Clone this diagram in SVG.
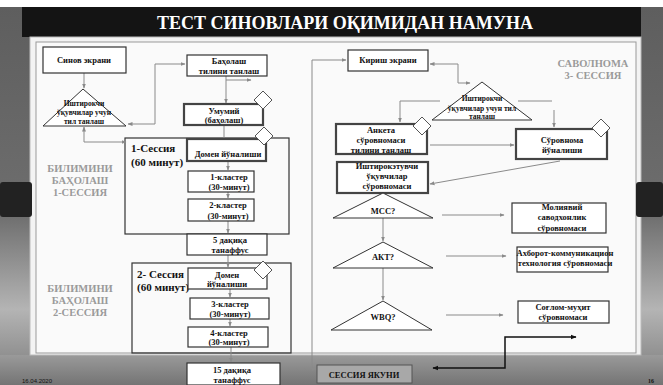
<svg xmlns="http://www.w3.org/2000/svg" width="663" height="385" viewBox="0 0 663 385">
<defs>
<linearGradient id="side" x1="0" y1="0" x2="0" y2="1">
<stop offset="0" stop-color="#5e5e5e"/><stop offset="0.55" stop-color="#6e6e6e"/><stop offset="0.8" stop-color="#b4b4b4"/><stop offset="1" stop-color="#7a7a7a"/>
</linearGradient>
<linearGradient id="band" x1="0" y1="0" x2="0" y2="1">
<stop offset="0" stop-color="#9a9a9a"/><stop offset="1" stop-color="#747474"/>
</linearGradient>
<marker id="ag" viewBox="0 0 10 10" refX="9" refY="5" markerWidth="5" markerHeight="5" orient="auto-start-reverse"><path d="M0,1 L10,5 L0,9 z" fill="#8a8a8a"/></marker>
<marker id="ab" viewBox="0 0 10 10" refX="9" refY="5" markerWidth="4" markerHeight="4" orient="auto-start-reverse"><path d="M0,1 L10,5 L0,9 z" fill="#111"/></marker>
<style>
.box{fill:#fff;stroke:#333;stroke-width:1.2}
.thk{fill:#fff;stroke:#444;stroke-width:2.2}
.tri{fill:#fff;stroke:#333;stroke-width:1}
.dia{fill:#fff;stroke:#555;stroke-width:1}
.t{font-family:"Liberation Serif",serif;font-weight:bold;font-size:8.5px;text-anchor:middle;fill:#111}
.ts{font-size:7.5px}
.tl{font-size:11px;text-anchor:start}
.tg{font-family:"Liberation Serif",serif;font-weight:bold;font-size:10.5px;text-anchor:middle;fill:#9a9a9a}
.c{fill:none;stroke:#8a8a8a;stroke-width:1}
.cb{fill:none;stroke:#111;stroke-width:1.5}
</style>
</defs>
<g id="background">
<rect x="0" y="0" width="663" height="385" fill="#fff"/>
<rect x="0" y="7" width="32" height="378" fill="url(#side)"/>
<rect x="637" y="7" width="26" height="378" fill="url(#side)"/>
<rect x="0" y="355" width="663" height="30" fill="url(#band)"/>
<rect x="22" y="7" width="619" height="30" fill="#141414"/>
<text x="345" y="29" font-family="Liberation Serif,serif" font-weight="bold" font-size="18" fill="#fff" text-anchor="middle">ТЕСТ СИНОВЛАРИ ОҚИМИДАН НАМУНА</text>
<rect x="30" y="37" width="611" height="318" fill="#f3f3f3" stroke="#bbb" stroke-width="1"/>
<rect x="36" y="42" width="600" height="311" fill="#fafafa" stroke="#999" stroke-width="1"/>
<rect x="0" y="182" width="32" height="35" rx="3" fill="#222"/>
<rect x="636" y="182" width="27" height="35" rx="3" fill="#222"/>
<text x="22" y="383" font-family="Liberation Sans,sans-serif" font-size="6" fill="#111">16.04.2020</text>
<text x="648" y="383" font-family="Liberation Serif,serif" font-weight="bold" font-size="6" fill="#111">16</text>
<text class="tg" x="80" y="172">БИЛИМИНИ</text>
<text class="tg" x="80" y="184">БАҲОЛАШ</text>
<text class="tg" x="80" y="196">1-СЕССИЯ</text>
<text class="tg" x="80" y="292">БИЛИМИНИ</text>
<text class="tg" x="80" y="304">БАҲОЛАШ</text>
<text class="tg" x="80" y="316">2-СЕССИЯ</text>
<text class="tg" x="593" y="67">САВОЛНОМА</text>
<text class="tg" x="593" y="79">3- СЕССИЯ</text>
</g>
<g id="session1">
<rect x="125" y="138" width="164" height="96" fill="none" stroke="#333" stroke-width="1.2"/>
<text class="t tl" x="131" y="152">1-Сессия</text>
<text class="t tl" x="131" y="166">(60 минут)</text>
</g>
<g id="session2">
<rect x="132" y="263" width="159" height="90" fill="none" stroke="#333" stroke-width="1.2"/>
<text class="t tl" x="137" y="278">2- Сессия</text>
<text class="t tl" x="137" y="291">(60 минут)</text>
</g>
<g id="connectors">
<path class="c" d="M84,73 V88" marker-end="url(#ag)"/>
<path class="c" d="M128,124 H155 V64 H185" marker-start="url(#ag)" marker-end="url(#ag)"/>
<path class="c" d="M84,127 V142 H126" marker-start="url(#ag)" marker-end="url(#ag)"/>
<path class="c" d="M226,76 V103" marker-end="url(#ag)"/>
<path class="c" d="M226,80 H251" marker-end="url(#ag)"/>
<path class="c" d="M224,125 V139"/>
<path class="c" d="M228,161 V170" marker-end="url(#ag)"/>
<path class="c" d="M228,192 V198" marker-end="url(#ag)"/>
<path class="c" d="M228,221 V233" marker-end="url(#ag)"/>
<path class="c" d="M228,255 V267" marker-end="url(#ag)"/>
<path class="c" d="M230,289 V297" marker-end="url(#ag)"/>
<path class="c" d="M230,319 V326" marker-end="url(#ag)"/>
<path class="c" d="M231,347 V362" marker-end="url(#ag)"/>
<path class="c" d="M346,60 H312 V369 H316" marker-start="url(#ag)" marker-end="url(#ag)"/>
<path class="c" d="M430,64 H458 V83 H470" marker-start="url(#ag)" marker-end="url(#ag)"/>
<path class="c" d="M440,101 H400 V122" marker-end="url(#ag)"/>
<path class="c" d="M518,101 H552"/>
<path class="c" d="M554,110 V127" marker-end="url(#ag)"/>
<path class="c" d="M430,145 H514" marker-end="url(#ag)"/>
<path class="c" d="M560,161 L430,184" marker-end="url(#ag)"/>
<path class="c" d="M383,218 V241" marker-end="url(#ag)"/>
<path class="c" d="M383,268 V300" marker-end="url(#ag)"/>
<path class="c" d="M442,215 H504" marker-end="url(#ag)"/>
<path class="c" d="M446,256 H506" marker-end="url(#ag)"/>
<path class="c" d="M446,315 H503" marker-end="url(#ag)"/>
<path class="cb" d="M433,368 H505 V337 H576" marker-start="url(#ab)" marker-end="url(#ab)"/>
</g>
<g id="sinov-ekrani">
<rect class="box" x="43" y="47" width="83" height="26"/>
<text class="t" x="84" y="63" font-size="9">Синов экрани</text>
</g>
<g id="tri-left">
<polygon class="tri" points="83,89 43,126 126,126"/>
<text class="t ts" x="84" y="106">Иштирокчи</text>
<text class="t ts" x="84" y="115">ўқувчилар учун</text>
<text class="t ts" x="84" y="124">тил танлаш</text>
</g>
<g id="baholash">
<rect class="box" x="187" y="55" width="80" height="21"/>
<text class="t" x="229" y="64">Баҳолаш</text>
<text class="t" x="229" y="74">тилини танлаш</text>
</g>
<g id="umumiy">
<rect class="thk" x="184" y="104" width="79" height="21"/>
<text class="t" x="224" y="114">Умумий</text>
<text class="t" x="224" y="123">(баҳолаш)</text>
<polygon class="dia" points="263,91 272,100 263,109 254,100"/>
</g>
<g id="domen1">
<rect class="thk" x="187" y="139" width="79" height="22"/>
<text class="t" x="228" y="157">Домен йўналиши</text>
<polygon class="dia" points="264,127 273,136 264,145 255,136"/>
</g>
<g id="klaster1">
<rect class="box" x="188" y="171" width="66" height="21"/>
<text class="t" x="229" y="180">1-кластер</text>
<text class="t" x="229" y="190">(30-минут)</text>
</g>
<g id="klaster2">
<rect class="box" x="188" y="199" width="66" height="22"/>
<text class="t" x="228" y="208">2-кластер</text>
<text class="t" x="228" y="219">(30-минут)</text>
</g>
<g id="tanaffus5">
<rect class="box" x="187" y="234" width="80" height="21"/>
<text class="t" x="230" y="243">5 дақиқа</text>
<text class="t" x="230" y="253">танаффус</text>
</g>
<g id="domen2">
<rect class="box" x="188" y="268" width="79" height="21"/>
<text class="t" x="227" y="278">Домен</text>
<text class="t" x="227" y="287">йўналиши</text>
<polygon class="dia" points="263,261 272,270 263,279 254,270"/>
</g>
<g id="klaster3">
<rect class="box" x="190" y="298" width="79" height="21"/>
<text class="t" x="230" y="307">3-кластер</text>
<text class="t" x="230" y="317">(30-минут)</text>
</g>
<g id="klaster4">
<rect class="box" x="188" y="327" width="80" height="20"/>
<text class="t" x="229" y="336">4-кластер</text>
<text class="t" x="229" y="345">(30-минут)</text>
</g>
<g id="tanaffus15">
<rect class="box" x="187" y="363" width="93" height="22"/>
<text class="t" x="232" y="373">15 дақиқа</text>
<text class="t" x="232" y="383">танаффус</text>
</g>
<g id="kirish-ekrani">
<rect class="box" x="348" y="50" width="80" height="21"/>
<text class="t" x="388" y="63">Кириш экрани</text>
</g>
<g id="tri-right">
<polygon class="tri" points="482,82 432,120 532,120"/>
<text class="t ts" x="482" y="101">Иштирокчи</text>
<text class="t ts" x="482" y="111">ўқувчилар учун тил</text>
<text class="t ts" x="482" y="119">танлаш</text>
</g>
<g id="anketa">
<rect class="thk" x="336" y="124" width="91" height="30"/>
<text class="t" x="381" y="133">Анкета</text>
<text class="t" x="381" y="143">сўровномаси</text>
<text class="t" x="381" y="153">тилини танлаш</text>
<polygon class="dia" points="422,117 431,126 422,135 413,126"/>
</g>
<g id="sorovnoma">
<rect class="thk" x="516" y="129" width="91" height="30"/>
<text class="t" x="562" y="143">Сўровнома</text>
<text class="t" x="562" y="153">йўналиши</text>
<polygon class="dia" points="601,119 610,128 601,137 592,128"/>
</g>
<g id="ishtirokchi">
<rect class="thk" x="337" y="162" width="91" height="31"/>
<text class="t" x="387" y="169">Иштирокэтувчи</text>
<text class="t" x="387" y="179">ўқувчилар</text>
<text class="t" x="387" y="189">сўровномаси</text>
</g>
<g id="mcc">
<polygon class="tri" points="383,193 333,218 433,218"/>
<text class="t" x="383" y="214" font-size="9.5">МСС?</text>
</g>
<g id="akt">
<polygon class="tri" points="383,242 333,268 433,268"/>
<text class="t" x="383" y="260" font-size="9.5">АКТ?</text>
</g>
<g id="wbq">
<polygon class="tri" points="383,301 331,330 432,330"/>
<text class="t" x="383" y="320" font-size="9.5">WBQ?</text>
</g>
<g id="moliyaviy">
<rect class="box" x="512" y="203" width="94" height="30"/>
<text class="t" x="562" y="210">Молиявий</text>
<text class="t" x="562" y="220">саводхонлик</text>
<text class="t" x="562" y="231">сўровномаси</text>
</g>
<g id="axborot">
<rect class="box" x="517" y="247" width="91" height="25"/>
<text class="t" x="565" y="256">Ахборот-коммуникацион</text>
<text class="t" x="565" y="266">технология сўровномаси</text>
</g>
<g id="soglom">
<rect class="box" x="518" y="301" width="91" height="22"/>
<text class="t" x="563" y="310">Соғлом-муҳит</text>
<text class="t" x="563" y="320">сўровномаси</text>
</g>
<g id="sessiya-yakuni">
<rect x="317" y="365" width="95" height="18" fill="#a8a8a8" stroke="#555" stroke-width="1"/>
<text class="t" x="364" y="378" font-size="10.5">СЕССИЯ ЯКУНИ</text>
</g>
</svg>
